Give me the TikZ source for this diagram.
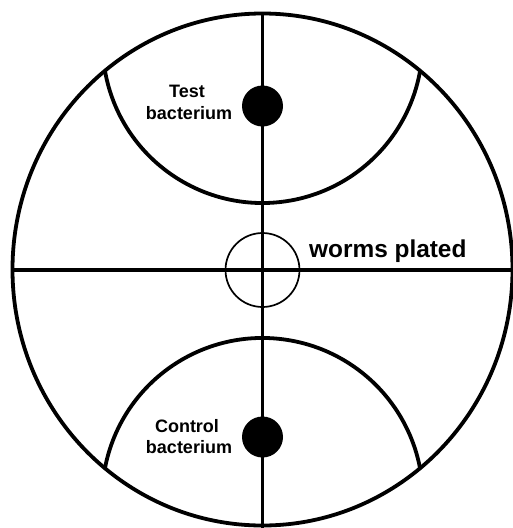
\documentclass[tikz,border=0pt]{standalone}
\usepackage{fontspec}
\setmainfont{Liberation Sans}
\begin{document}
\begin{tikzpicture}[x=1pt,y=1pt,
  thickline/.style={line width=3.8pt},
  thinline/.style={line width=1.7pt},
  dot/.style={fill=black},
  lbl/.style={font=\bfseries\fontsize{18}{21}\selectfont, anchor=base, inner sep=0pt},
  biglbl/.style={font=\bfseries\fontsize{24.4}{28}\selectfont, anchor=base west, inner sep=0pt}]
\useasboundingbox (0,0) rectangle (513,-528);
% plate
\draw[thickline] (262.5,-269.5) ellipse [x radius=250, y radius=256];
% cross lines
\draw[thickline] (262.5,-13.5) -- (262.5,-528);
\draw[thickline] (12.5,-270) -- (513,-270);
% arcs
\draw[thickline] (105,-71) arc[start angle=190.08, end angle=349.92, radius=160];
\draw[thickline] (105,-468) arc[start angle=169.08, end angle=10.92, radius=160.4];
% centre circle
\draw[thinline] (262.5,-270) circle[radius=37];
% bacteria dots
\fill[dot] (262.5,-106) circle[radius=20.5];
\fill[dot] (262.5,-437) circle[radius=20.5];
% labels
\node[lbl] (t1) at (187,-97.3) {Test};
\node[lbl] (t2) at (189,-119) {bacterium};
\node[lbl] (c1) at (187,-432) {Control};
\node[lbl] (c2) at (189,-453.3) {bacterium};
\node[biglbl] (w) at (309,-257) {worms plated};
\end{tikzpicture}
\end{document}
